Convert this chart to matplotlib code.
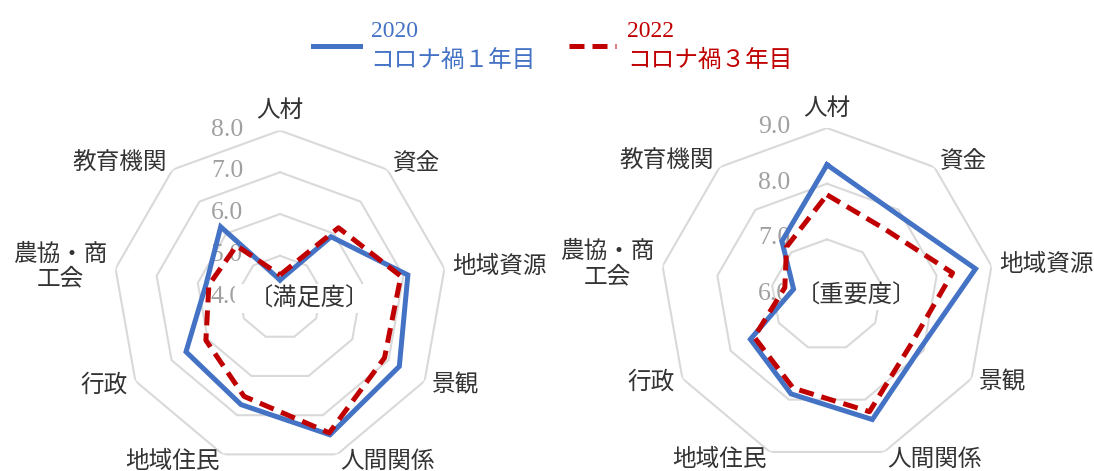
import numpy as np
import matplotlib
matplotlib.use('Agg')
import matplotlib.pyplot as plt
from matplotlib.lines import Line2D
from matplotlib.patches import Rectangle
from matplotlib.transforms import offset_copy

categories = ['人材', '資金', '地域資源', '景観', '人間関係',
              '地域住民', '行政', '農協・商\n工会', '教育機関']

# 満足度 (satisfaction)
satisfaction_2020 = [4.42, 5.90, 7.11, 7.30, 7.50, 6.73, 6.60, 5.80, 6.21]
satisfaction_2022 = [4.54, 6.18, 6.94, 6.89, 7.45, 6.52, 6.05, 5.73, 5.62]

# 重要度 (importance)
importance_2020 = [8.34, 7.92, 8.71, 7.93, 8.38, 7.89, 7.59, 6.61, 7.26]
importance_2022 = [7.80, 7.57, 8.29, 7.75, 8.23, 7.78, 7.51, 6.77, 7.13]

satisfaction_ticks = [4.0, 5.0, 6.0, 7.0, 8.0]
importance_ticks = [6.0, 7.0, 8.0, 9.0]

series_labels = ['2020\nコロナ禍１年目', '2022\nコロナ禍３年目']

BLUE = '#4472C4'
RED = '#C00000'
GRID = '#D9D9D9'
TICK = '#A0A0A0'
TEXT = '#333333'
DASH = (0, (3.0, 1.6))

plt.rcParams['font.family'] = ['Liberation Serif', 'Noto Sans CJK JP']


def radar(ax, v2020, v2022, ticks, title):
    n = len(categories)
    theta = np.linspace(0, 2 * np.pi, n, endpoint=False)
    closed = np.append(theta, theta[0])
    lo, hi = ticks[0], ticks[-1]

    ax.set_theta_zero_location('N')
    ax.set_theta_direction(-1)
    ax.set_ylim(lo, hi)
    ax.grid(False)
    ax.set_xticks([])
    ax.set_yticks([])
    ax.spines['polar'].set_visible(False)

    # Nonagon grid rings.
    for t in ticks[1:]:
        ax.plot(closed, [t] * (n + 1), color=GRID, lw=1.5, zorder=1)

    # Value labels along the top axis.
    trans = offset_copy(ax.transData, fig=ax.figure, x=-37, y=1, units='dots')
    for t in ticks:
        ax.text(0, t, f'{t:.1f}', transform=trans, ha='right', va='center',
                color=TICK, fontsize=18.5, zorder=3)

    # White box behind the centre title.
    ax.add_patch(Rectangle((0.365, 0.455), 0.40, 0.085, transform=ax.transAxes,
                           fc='white', ec='none', zorder=4))
    ax.text(0.405, 0.497, title, transform=ax.transAxes, ha='left', va='center',
            fontsize=17.5, color=TEXT, zorder=7)

    # Data.
    ax.plot(closed, np.append(v2020, v2020[0]), color=BLUE, lw=3.6,
            zorder=5, solid_joinstyle='miter')
    ax.plot(closed, np.append(v2022, v2022[0]), color=RED, lw=3.6,
            ls=DASH, zorder=6, dash_capstyle='butt')

    # Category labels.
    r_lab = lo + (hi - lo) * 1.05
    for th, name in zip(theta, categories):
        s = np.sin(th)
        if abs(s) < 0.01:
            ha, va = 'center', 'bottom'
        else:
            ha, va = ('left' if s > 0 else 'right'), 'center'
        ax.text(th, r_lab, name, ha=ha, va=va, fontsize=17, color=TEXT,
                multialignment='center', linespacing=1.2)


fig = plt.figure(figsize=(10.94, 4.71), dpi=100)
ax1 = fig.add_axes([0.1033, 0.0138, 0.3053, 0.7091], projection='polar')
ax2 = fig.add_axes([0.6033, 0.0191, 0.3053, 0.7091], projection='polar')

radar(ax1, satisfaction_2020, satisfaction_2022, satisfaction_ticks, '〔満足度〕')
radar(ax2, importance_2020, importance_2022, importance_ticks, '〔重要度〕')

handles = [
    Line2D([], [], color=BLUE, lw=3.6),
    Line2D([], [], color=RED, lw=3.6, ls=DASH, dash_capstyle='butt'),
]
leg = fig.legend(handles, series_labels, loc='upper center',
                 bbox_to_anchor=(0.505, 0.985), ncol=2, frameon=False,
                 fontsize=17, labelcolor=[BLUE, RED], handlelength=2.0,
                 handletextpad=0.45, columnspacing=1.4, borderaxespad=0.2)
for txt in leg.get_texts():
    txt.set_linespacing(1.45)

fig.savefig('out.png', dpi=100)
